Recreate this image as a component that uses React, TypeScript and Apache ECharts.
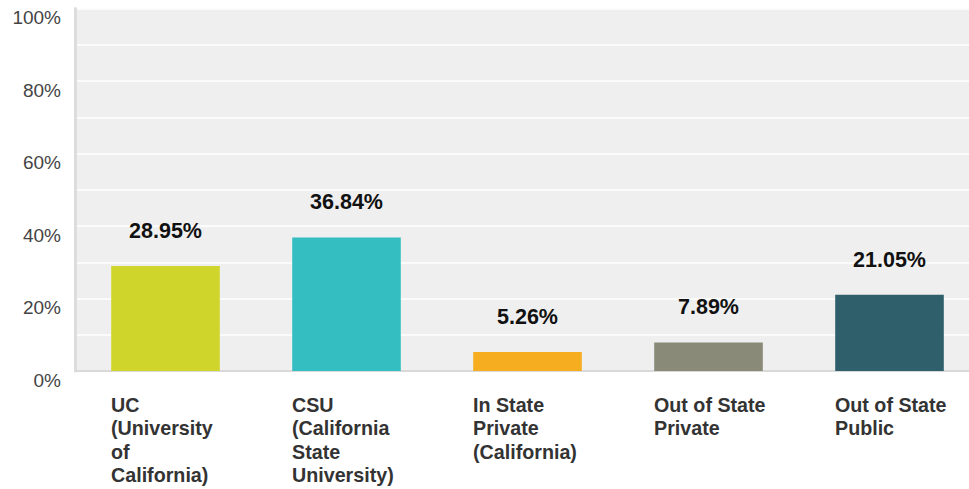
import React, { useEffect, useRef } from "react";
import * as echarts from "echarts";

const categories = [
  "UC\n(University\nof\nCalifornia)",
  "CSU\n(California\nState\nUniversity)",
  "In State\nPrivate\n(California)",
  "Out of State\nPrivate",
  "Out of State\nPublic",
];
const values = [28.95, 36.84, 5.26, 7.89, 21.05];
const colors = ["#cfd52a", "#35bec1", "#f6ae20", "#898a78", "#2f5f6b"];

const FONT = 'Arial, "Liberation Sans", Helvetica, sans-serif';

export default function App() {
  const ref = useRef<HTMLDivElement>(null);
  useEffect(() => {
    if (!ref.current) return;
    const chart = echarts.init(ref.current, null, { renderer: "svg" });
    chart.setOption({
      animation: false,
      grid: {
        left: 75,
        top: 8.5,
        bottom: 118,
        right: 0,
        show: true,
        backgroundColor: "#efefef",
        borderWidth: 0,
      },
      xAxis: {
        type: "category",
        data: categories,
        axisLine: { show: true, lineStyle: { color: "#d9d9d9", width: 2 } },
        axisTick: { show: false },
        axisLabel: {
          interval: 0,
          margin: 22,
          align: "center",
          formatter: (v: string) =>
            v
              .split("\n")
              .map((l) => "{a|" + l + "}")
              .join("\n"),
          rich: {
            a: {
              width: 109,
              align: "left",
              fontFamily: FONT,
              fontSize: 19.7,
              fontWeight: "bold",
              color: "#333",
              lineHeight: 23.4,
            },
          },
        },
      },
      yAxis: {
        type: "value",
        min: 0,
        max: 100,
        interval: 10,
        axisLine: { show: true, lineStyle: { color: "#dddddd", width: 3 } },
        axisTick: { show: false },
        splitLine: { show: true, lineStyle: { color: "#ffffff", width: 1.5 } },
        axisLabel: {
          margin: 14,
          fontFamily: FONT,
          fontSize: 19,
          color: "#444",
          verticalAlign: "top",
          lineHeight: 18,
          formatter: (v: number) => (v % 20 === 0 ? v + "%" : ""),
        },
      },
      series: [
        {
          type: "bar",
          barWidth: "60%",
          data: values.map((v, i) => ({ value: v, itemStyle: { color: colors[i] } })),
          label: {
            show: true,
            position: "top",
            distance: 24,
            fontFamily: FONT,
            fontSize: 21.5,
            fontWeight: "bold",
            color: "#111",
            formatter: (p: any) => p.value.toFixed(2) + "%",
          },
        },
      ],
    });
    return () => chart.dispose();
  }, []);
  return (
    <div
      style={{ position: "fixed", left: 0, top: 0, width: 969, height: 489, overflow: "hidden", background: "#fff" }}
    >
      <div ref={ref} style={{ width: 980, height: 489 }} />
    </div>
  );
}
